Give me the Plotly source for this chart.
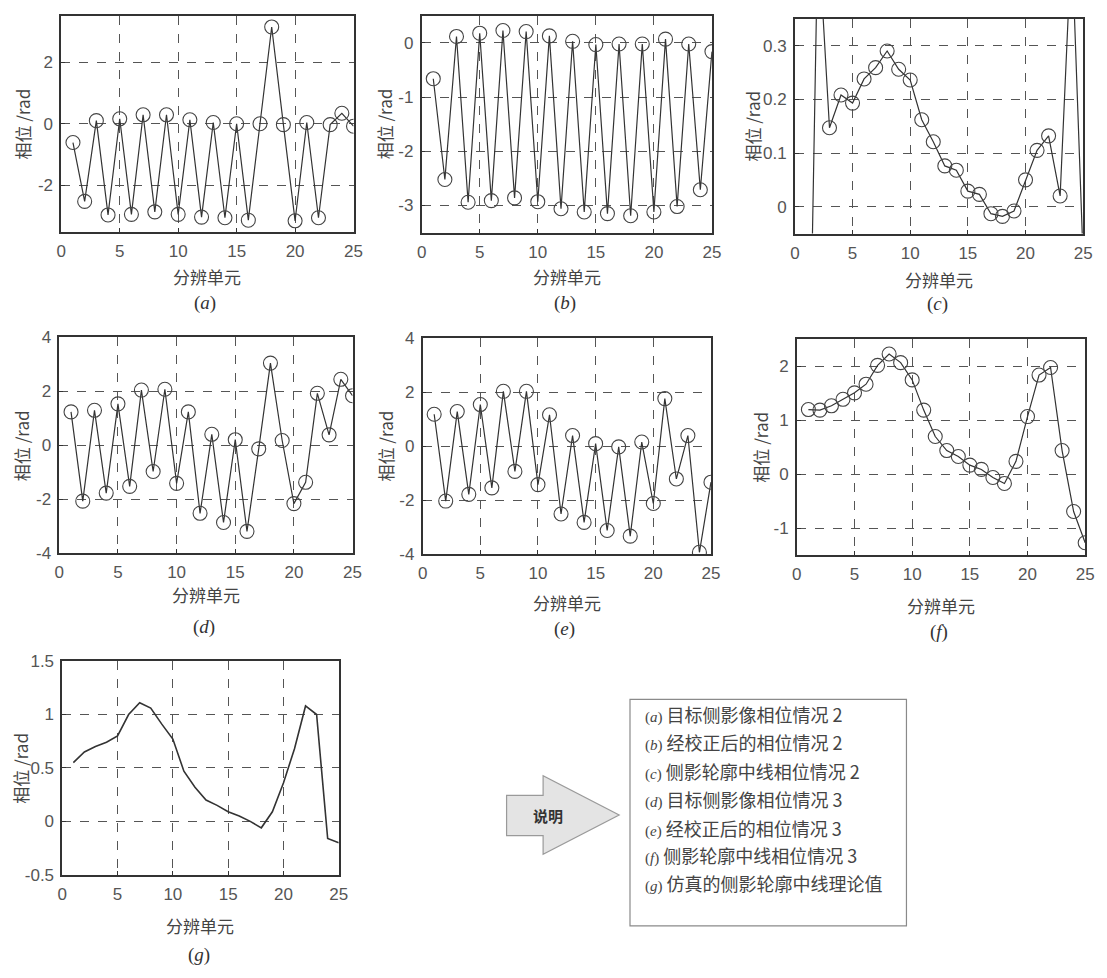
import plotly.graph_objects as go

W, H = 1107, 978

# ---------------- data ----------------
cells = list(range(1, 26))

phase_a = [-0.61, -2.52, 0.10, -2.96, 0.16, -2.94, 0.29, -2.86, 0.29, -2.94,
           0.13, -3.03, 0.04, -3.05, 0.00, -3.13, 0.00, 3.14, -0.03, -3.15,
           0.04, -3.05, -0.03, 0.34, -0.08]
phase_b = [-0.66, -2.52, 0.12, -2.94, 0.18, -2.91, 0.23, -2.86, 0.21, -2.93,
           0.13, -3.06, 0.03, -3.12, -0.03, -3.15, -0.02, -3.19, -0.02, -3.12,
           0.07, -3.02, -0.02, -2.71, -0.16]
phase_c = [-0.68, 0.52, 0.147, 0.208, 0.193, 0.238, 0.259, 0.290, 0.256, 0.236,
           0.162, 0.121, 0.076, 0.068, 0.029, 0.023, -0.013, -0.018, -0.008, 0.050,
           0.105, 0.132, 0.020, 0.50, -0.10]
phase_d = [1.24, -2.07, 1.30, -1.77, 1.54, -1.52, 2.05, -0.97, 2.08, -1.41,
           1.24, -2.52, 0.41, -2.86, 0.21, -3.19, -0.13, 3.05, 0.18, -2.16,
           -1.37, 1.93, 0.39, 2.45, 1.84]
phase_e = [1.19, -2.03, 1.29, -1.78, 1.55, -1.54, 2.04, -0.93, 2.04, -1.42,
           1.17, -2.51, 0.40, -2.82, 0.10, -3.12, -0.02, -3.33, 0.16, -2.12,
           1.77, -1.21, 0.40, -3.93, -1.33]
phase_f = [1.20, 1.19, 1.27, 1.39, 1.51, 1.67, 2.02, 2.23, 2.07, 1.75,
           1.19, 0.70, 0.44, 0.33, 0.17, 0.09, -0.06, -0.17, 0.24, 1.07,
           1.84, 1.98, 0.44, -0.69, -1.27]
theory_g = [0.55, 0.65, 0.70, 0.74, 0.80, 1.00, 1.11, 1.06, 0.91, 0.77,
            0.47, 0.32, 0.20, 0.15, 0.09, 0.05, 0.00, -0.06, 0.09, 0.36,
            0.68, 1.08, 1.00, -0.16, -0.20]

x_ticks = [0, 5, 10, 15, 20, 25]
x_ticktext = ["0", "5", "10", "15", "20", "25"]

y_ticks_a = [-2, 0, 2];            y_text_a = ["-2", "0", "2"]
y_ticks_b = [-3, -2, -1, 0];       y_text_b = ["-3", "-2", "-1", "0"]
y_ticks_c = [0, 0.1, 0.2, 0.3];    y_text_c = ["0", "0.1", "0.2", "0.3"]
y_ticks_d = [-4, -2, 0, 2, 4];     y_text_d = ["-4", "-2", "0", "2", "4"]
y_ticks_e = [-4, -2, 0, 2, 4];     y_text_e = ["-4", "-2", "0", "2", "4"]
y_ticks_f = [-1, 0, 1, 2];         y_text_f = ["-1", "0", "1", "2"]
y_ticks_g = [-0.5, 0, 0.5, 1, 1.5]; y_text_g = ["-0.5", "0", "0.5", "1", "1.5"]

x_title = "分辨单元"
y_title = "相位 /rad"

legend_items = [
    ("a", "目标侧影像相位情况 2"),
    ("b", "经校正后的相位情况 2"),
    ("c", "侧影轮廓中线相位情况 2"),
    ("d", "目标侧影像相位情况 3"),
    ("e", "经校正后的相位情况 3"),
    ("f", "侧影轮廓中线相位情况 3"),
    ("g", "仿真的侧影轮廓中线理论值"),
]
arrow_label = "说明"

# ---------------- layout helpers ----------------
def px(x):
    return x / W

def py(y):
    return 1 - y / H

CJK = "Noto Sans CJK SC"
SANS = "Liberation Sans, Arial, sans-serif"
SERIF = "Liberation Serif, DejaVu Serif, serif"

panels = [
    # letter, series, yrange, yticks, ytext, frame(l,r,t,b), ytitle_x, xtitle_y, caption_y, markers
    ("a", phase_a, [-3.5, 3.5], y_ticks_a, y_text_a, (57, 353, 7, 227), 18, 273, 300, True),
    ("b", phase_b, [-3.5, 0.5], y_ticks_b, y_text_b, (422, 716, 7, 228), 384, 273, 300, True),
    ("c", phase_c, [-0.05, 0.35], y_ticks_c, y_text_c, (800, 1092, 10, 229), 757, 276, 301, True),
    ("d", phase_d, [-4, 4], y_ticks_d, y_text_d, (55, 352, 335, 555), 17, 597, 630, True),
    ("e", phase_e, [-4, 4], y_ticks_e, y_text_e, (423, 715, 336, 556), 385, 605, 632, True),
    ("f", phase_f, [-1.5, 2.5], y_ticks_f, y_text_f, (802, 1094, 337, 557), 765, 608, 635, True),
    ("g", theory_g, [-0.5, 1.5], y_ticks_g, y_text_g, (58, 338, 665, 883), 16, 935, 965, False),
]

fig = go.Figure()
layout = dict(
    width=W, height=H,
    margin=dict(l=0, r=0, t=0, b=0),
    paper_bgcolor="white", plot_bgcolor="white",
    showlegend=False,
)
annotations = []
shapes = []

for i, (letter, series, yr, yt, ytt, frame, ytx, xty, capy, markers) in enumerate(panels):
    n = "" if i == 0 else str(i + 1)
    l, r, t, b = frame
    xa = dict(
        domain=[px(l), px(r)], range=[0, 25], anchor="y" + n,
        tickvals=x_ticks, ticktext=x_ticktext,
        showline=True, mirror=True, linecolor="#333", linewidth=1.6,
        showgrid=True, gridcolor="#555", gridwidth=1, griddash="dash",
        zeroline=False, ticks="inside", ticklen=4, tickcolor="#333",
        tickfont=dict(family=SANS, size=17, color="#555"),
        ticklabelstandoff=3,
    )
    ya = dict(
        domain=[py(b), py(t)], range=yr, anchor="x" + n,
        tickvals=yt, ticktext=ytt,
        showline=True, mirror=True, linecolor="#333", linewidth=1.6,
        showgrid=True, gridcolor="#555", gridwidth=1, griddash="dash",
        zeroline=False, ticks="inside", ticklen=4, tickcolor="#333",
        tickfont=dict(family=SANS, size=17, color="#555"),
        ticklabelstandoff=3,
    )
    layout["xaxis" + n] = xa
    layout["yaxis" + n] = ya

    fig.add_trace(go.Scatter(
        x=cells, y=series, xaxis="x" + n, yaxis="y" + n,
        mode="lines+markers" if markers else "lines",
        line=dict(color="#333", width=1.2 if markers else 1.6),
        marker=dict(symbol="circle-open", size=14, color="#444",
                    line=dict(width=1.1, color="#444")),
        cliponaxis=True, hoverinfo="skip",
    ))

    cx = (l + r) / 2
    annotations.append(dict(
        text=x_title, x=px(cx), y=py(xty), xref="paper", yref="paper",
        showarrow=False, xanchor="center", yanchor="middle",
        font=dict(family=CJK, size=17, color="#444"),
    ))
    annotations.append(dict(
        text=y_title, x=px(ytx), y=py((t + b) / 2), xref="paper", yref="paper",
        showarrow=False, xanchor="center", yanchor="middle", textangle=-90,
        font=dict(family=CJK, size=17, color="#444"),
    ))
    annotations.append(dict(
        text="(<i>%s</i>)" % letter, x=px(cx - 2), y=py(capy), xref="paper", yref="paper",
        showarrow=False, xanchor="center", yanchor="middle",
        font=dict(family=SERIF, size=19, color="#333"),
    ))

# ---------------- explanation arrow + box ----------------
arrow_pts = [(508, 802), (545, 802), (545, 782), (622, 822), (545, 862), (545, 843), (508, 843)]
path = "M " + " L ".join("%.5f,%.5f" % (px(x), py(y)) for x, y in arrow_pts) + " Z"
shapes.append(dict(type="path", xref="paper", yref="paper", path=path,
                   fillcolor="#e4e4e4", line=dict(color="#9a9a9a", width=1.2)))
annotations.append(dict(
    text="<b>%s</b>" % arrow_label, x=px(550), y=py(822), xref="paper", yref="paper",
    showarrow=False, xanchor="center", yanchor="middle",
    font=dict(family=CJK, size=15, color="#333"),
))

shapes.append(dict(type="rect", xref="paper", yref="paper",
                   x0=px(633), x1=px(913), y0=py(935), y1=py(704),
                   fillcolor="white", line=dict(color="#8a8a8a", width=1.2)))
line_y = [719, 748, 777, 806, 835, 863, 891]
for (letter, txt), ly in zip(legend_items, line_y):
    annotations.append(dict(
        text="<span style='font-family:Liberation Serif,serif;font-size:15px'>(<i>%s</i>)</span> %s" % (letter, txt),
        x=px(646), y=py(ly), xref="paper", yref="paper",
        showarrow=False, xanchor="left", yanchor="middle",
        font=dict(family=CJK, size=18, color="#444"),
    ))

layout["annotations"] = annotations
layout["shapes"] = shapes
fig.update_layout(**layout)
fig.write_html("out.html",
               config={"displayModeBar": False},
               post_script="document.body.style.margin='0';document.body.style.overflow='hidden';")
